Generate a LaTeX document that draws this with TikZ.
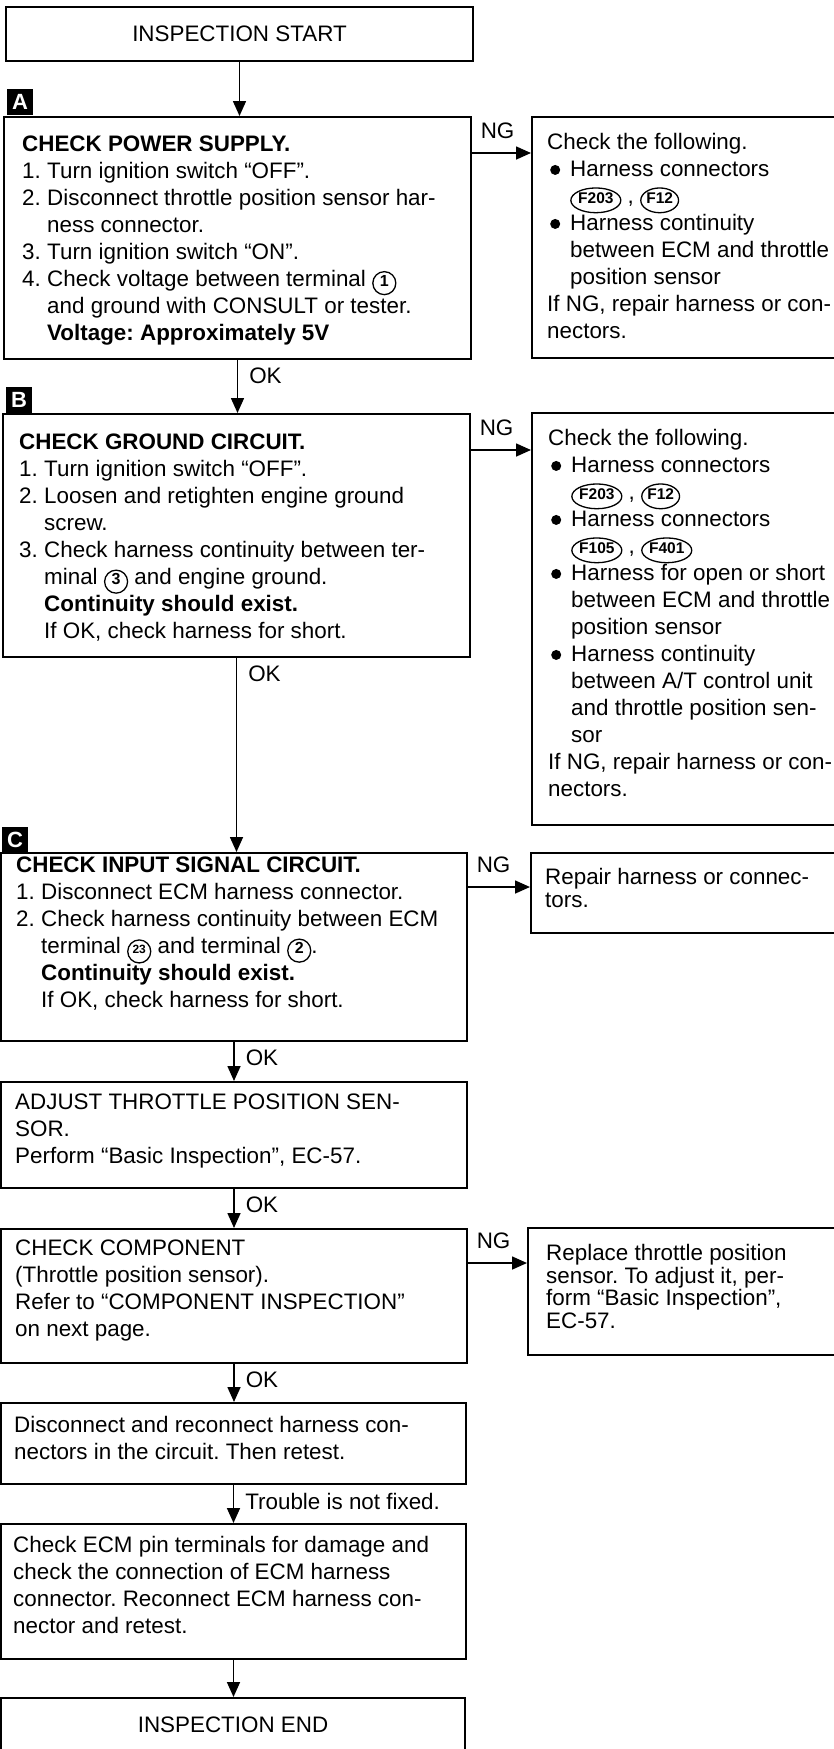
\documentclass[tikz,border=0pt]{standalone}
\usepackage{fontspec}
\setmainfont{Liberation Sans}
\usepackage{tikz}
\usetikzlibrary{arrows.meta,shapes.geometric}
\frenchspacing
\newcommand{\bodyfont}{\fontsize{22.4}{27}\selectfont}
\newcommand{\tightfont}{\fontsize{22.4}{22.6}\selectfont}
\newcommand{\itm}[1]{\makebox[25pt][l]{#1}}
\newcommand{\ind}{\hspace*{25pt}}
\newcommand{\bul}{\makebox[23pt][l]{\hspace{3pt}\raisebox{1.5pt}{\tikz\fill (0,0) circle (5pt);}}}
\newcommand{\bind}{\hspace*{23pt}}
\newcommand{\term}[2][16]{\tikz[baseline=(t.base)]\node[draw, circle, line width=1.3pt,
  minimum size=23pt, inner sep=0pt, anchor=base, execute at begin node={},
  font=\bfseries\fontsize{#1}{#1}\selectfont] (t) {#2};}
\newcommand{\conn}[1]{\tikz[baseline=(c.base)]\node[draw, ellipse, line width=1.3pt,
  minimum height=22pt, inner xsep=0pt, inner ysep=1pt, anchor=base, execute at begin node={},
  font=\bfseries\fontsize{15.5}{15.5}\selectfont] (c) {#1};}
\tikzset{
  stepbox/.style={draw, line width=2pt, inner sep=0pt, font=\bodyfont},
  txt/.style={anchor=north west, inner sep=0pt, align=left, font=\bodyfont,
    execute at begin node=\strut},
  tighttxt/.style={txt, font=\tightfont},
  tag/.style={fill=black, text=white, minimum size=26pt, inner sep=0pt,
    font=\bfseries\fontsize{22}{22}\selectfont},
  flow/.style={-{Triangle[length=15pt,width=13pt]}, line width=1.6pt},
  okl/.style={anchor=north west, inner sep=0pt, xshift=11pt, yshift=-7.5pt, font=\bodyfont},
  ngl/.style={anchor=base west, inner sep=0pt, xshift=8pt, yshift=15pt, font=\bodyfont},
}

\begin{document}
\begin{tikzpicture}[x=1pt, y=-1pt]
  \useasboundingbox (0,0) rectangle (833,1749);

  \node[stepbox, minimum width=467, minimum height=54] (start) at (239.5,34) {INSPECTION START};

  % A
  \node[tag] (tagA) at (20,102) {A};
  \node[stepbox, minimum width=467, minimum height=242] (chkpwr) at (237.5,238) {};
  \node[txt] (pwrtxt) at (22,135.5) {\textbf{CHECK POWER SUPPLY.}\\
    \itm{1.}Turn ignition switch “OFF”.\\
    \itm{2.}Disconnect throttle position sensor har-\\
    \ind ness connector.\\
    \itm{3.}Turn ignition switch “ON”.\\
    \itm{4.}Check voltage between terminal \term{1}\\
    \ind and ground with CONSULT or tester.\\
    \ind\textbf{Voltage: Approximately 5V}};
  \node[stepbox, minimum width=318, minimum height=241] (fixpwr) at (691,237.5) {};
  \node[txt] (fixpwrtxt) at (547,133) {Check the following.\\
    \bul Harness connectors\\
    \bind\conn{F203} , \conn{F12}\\
    \bul Harness continuity\\
    \bind between ECM and throttle\\
    \bind position sensor\\
    If NG, repair harness or con-\\
    nectors.};

  % B
  \node[tag] (tagB) at (19,400) {B};
  \node[stepbox, minimum width=467, minimum height=243] (chkgnd) at (236.5,535.5) {};
  \node[txt] (gndtxt) at (19,434) {\textbf{CHECK GROUND CIRCUIT.}\\
    \itm{1.}Turn ignition switch “OFF”.\\
    \itm{2.}Loosen and retighten engine ground\\
    \ind screw.\\
    \itm{3.}Check harness continuity between ter-\\
    \ind minal \term{3} and engine ground.\\
    \ind\textbf{Continuity should exist.}\\
    \ind If OK, check harness for short.};
  \node[stepbox, minimum width=318, minimum height=412] (fixgnd) at (691,619) {};
  \node[txt] (fixgndtxt) at (548,429) {Check the following.\\
    \bul Harness connectors\\
    \bind\conn{F203} , \conn{F12}\\
    \bul Harness connectors\\
    \bind\conn{F105} , \conn{F401}\\
    \bul Harness for open or short\\
    \bind between ECM and throttle\\
    \bind position sensor\\
    \bul Harness continuity\\
    \bind between A/T control unit\\
    \bind and throttle position sen-\\
    \bind sor\\
    If NG, repair harness or con-\\
    nectors.};

  % C
  \node[tag] (tagC) at (15,840) {C};
  \node[stepbox, minimum width=466, minimum height=188] (chksig) at (234,947) {};
  \node[txt] (sigtxt) at (16,857) {\textbf{CHECK INPUT SIGNAL CIRCUIT.}\\
    \itm{1.}Disconnect ECM harness connector.\\
    \itm{2.}Check harness continuity between ECM\\
    \ind terminal \term[12]{23} and terminal \term{2}.\\
    \ind\textbf{Continuity should exist.}\\
    \ind If OK, check harness for short.};
  \node[stepbox, minimum width=319, minimum height=80] (fixsig) at (690.5,893) {};
  \node[tighttxt] (fixsigtxt) at (545,868) {Repair harness or connec-\\tors.};

  \node[stepbox, minimum width=466, minimum height=106] (adjtps) at (234,1135) {};
  \node[txt] (adjtxt) at (15,1094) {ADJUST THROTTLE POSITION SEN-\\
    SOR.\\
    Perform “Basic Inspection”, EC-57.};

  \node[stepbox, minimum width=466, minimum height=134] (chkcmp) at (234,1296) {};
  \node[txt] (cmptxt) at (15,1240) {CHECK COMPONENT\\
    (Throttle position sensor).\\
    Refer to “COMPONENT INSPECTION”\\
    on next page.};
  \node[stepbox, minimum width=322, minimum height=127] (rpltps) at (689,1291.5) {};
  \node[tighttxt] (rpltxt) at (546,1244) {Replace throttle position\\
    sensor. To adjust it, per-\\
    form “Basic Inspection”,\\
    EC-57.};

  \node[stepbox, minimum width=465, minimum height=81] (recon) at (233.5,1443.5) {};
  \node[txt] (recontxt) at (14,1416) {Disconnect and reconnect harness con-\\
    nectors in the circuit. Then retest.};

  \node[stepbox, minimum width=465, minimum height=135] (chkecm) at (233.5,1591.5) {};
  \node[txt] (ecmtxt) at (13,1536) {Check ECM pin terminals for damage and\\
    check the connection of ECM harness\\
    connector. Reconnect ECM harness con-\\
    nector and retest.};

  \node[stepbox, minimum width=464, minimum height=54] (insend) at (233,1725) {INSPECTION END};

  % main line
  \draw[flow] (start.south) -- (start.south |- chkpwr.north);
  \draw[flow] (chkpwr.south) -- node[okl, at start] {OK} (chkpwr.south |- chkgnd.north);
  \draw[flow] (chkgnd.south) -- node[okl, at start] {OK} (chkgnd.south |- chksig.north);
  \draw[flow] (chksig.south) -- node[okl, at start] {OK} (chksig.south |- adjtps.north);
  \draw[flow] (adjtps.south) -- node[okl, at start] {OK} (adjtps.south |- chkcmp.north);
  \draw[flow] (chkcmp.south) -- node[okl, at start] {OK} (chkcmp.south |- recon.north);
  \draw[flow] (recon.south) -- node[okl, at start] {Trouble is not fixed.} (recon.south |- chkecm.north);
  \draw[flow] (chkecm.south) -- (chkecm.south |- insend.north);

  % NG branches
  \coordinate (ngpwr) at (chkpwr.east |- 0,153);
  \coordinate (nggnd) at (chkgnd.east |- 0,450);
  \coordinate (ngsig) at (chksig.east |- 0,887);
  \coordinate (ngcmp) at (chkcmp.east |- 0,1263);
  \draw[flow] (ngpwr) -- node[ngl, at start] {NG} (ngpwr -| fixpwr.west);
  \draw[flow] (nggnd) -- node[ngl, at start] {NG} (nggnd -| fixgnd.west);
  \draw[flow] (ngsig) -- node[ngl, at start] {NG} (ngsig -| fixsig.west);
  \draw[flow] (ngcmp) -- node[ngl, at start] {NG} (ngcmp -| rpltps.west);
\end{tikzpicture}
\end{document}
